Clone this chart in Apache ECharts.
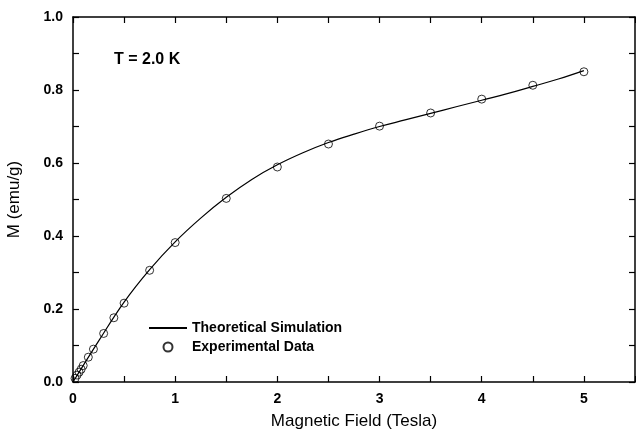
<!DOCTYPE html>
<html><head><meta charset="utf-8">
<script src="https://cdn.jsdelivr.net/npm/echarts@6/dist/echarts.min.js"></script>
<style>html,body{margin:0;padding:0;background:#fff}#c{width:636px;height:433px}</style>
</head><body><div id="c"></div>
<script>
var expField = [0.02,0.04,0.06,0.08,0.1,0.15,0.2,0.3,0.4,0.5,0.75,1,1.5,2,2.5,3,3.5,4,4.5,5];
var expM     = [0.010,0.019,0.027,0.035,0.045,0.068,0.090,0.133,0.176,0.216,0.306,0.382,0.503,0.589,0.652,0.701,0.737,0.775,0.813,0.850];
var simField = [0,0.25,0.5,0.75,1,1.25,1.5,1.75,2,2.25,2.5,2.75,3,3.25,3.5,3.75,4,4.25,4.5,4.75,5];
var simM     = [0,0.112,0.219,0.308,0.384,0.449,0.506,0.555,0.595,0.628,0.656,0.679,0.700,0.718,0.736,0.754,0.772,0.790,0.810,0.830,0.853];
var xLabel = 'Magnetic Field (Tesla)';
var yLabel = 'M (emu/g)';
var legendNames = ['Theoretical Simulation','Experimental Data'];
var note = 'T = 2.0 K';

var chart = echarts.init(document.getElementById('c'));
var F = 'Liberation Sans, Arial, sans-serif';
var lineStyle = {color:'#000', width:1.5};
var tick = {show:true, inside:true, length:6, lineStyle:{color:'#000', width:1.2}};
chart.setOption({
  animation:false,
  backgroundColor:'#fff',
  grid:{left:73,right:1,top:17,bottom:51, containLabel:false, outerBoundsMode:'none'},
  legend:{
    orient:'vertical', left:143, top:316, itemGap:5,
    itemWidth:38, itemHeight:9,
    textStyle:{fontFamily:F, fontWeight:'bold', fontSize:14, color:'#000'},
    data:[{name:legendNames[0], itemStyle:{opacity:0}},{name:legendNames[1]}]
  },
  graphic:[{type:'text', left:114, top:52, style:{text:note, font:'bold 16px '+F, fill:'#000'}}],
  xAxis:[
    {type:'value', position:'bottom', min:0, max:5.5, interval:0.5,
     name:xLabel, nameLocation:'middle', nameGap:31,
     nameTextStyle:{fontFamily:F, fontSize:17, color:'#000'},
     axisLine:{onZero:false, lineStyle:lineStyle},
     axisTick:tick,
     axisLabel:{fontFamily:F, fontWeight:'bold', fontSize:14, color:'#000', margin:10,
       formatter:function(v){return Math.abs(v-Math.round(v))<1e-6 ? String(Math.round(v)) : '';}},
     splitLine:{show:false}},
    {type:'value', position:'top', min:0, max:5.5, interval:0.5,
     axisLine:{onZero:false, lineStyle:lineStyle},
     axisTick:tick,
     axisLabel:{show:false}, splitLine:{show:false}}
  ],
  yAxis:[
    {type:'value', position:'left', min:0, max:1, interval:0.1,
     name:yLabel, nameLocation:'middle', nameGap:50,
     nameTextStyle:{fontFamily:F, fontSize:17, color:'#000'},
     axisLine:{show:true, onZero:false, lineStyle:lineStyle},
     axisTick:tick,
     axisLabel:{fontFamily:F, fontWeight:'bold', fontSize:14, color:'#000', margin:10,
       formatter:function(v){var k=Math.round(v*10); return k%2===0 ? v.toFixed(1) : '';}},
     splitLine:{show:false}},
    {type:'value', position:'right', min:0, max:1, interval:0.1,
     axisLine:{show:true, onZero:false, lineStyle:lineStyle},
     axisTick:tick,
     axisLabel:{show:false}, splitLine:{show:false}}
  ],
  series:[
    {name:legendNames[0], type:'line', smooth:0.4, symbol:'none',
     lineStyle:{color:'#000', width:1.2}, itemStyle:{color:'#000'},
     data:simField.map(function(x,i){return [x, simM[i]];})},
    {name:legendNames[1], type:'scatter', symbol:'circle', symbolSize:8,
     itemStyle:{color:'rgba(255,255,255,0)', borderColor:'#000', borderWidth:1},
     data:expField.map(function(x,i){return [x, expM[i]];}), z:3}
  ]
});
</script></body></html>
